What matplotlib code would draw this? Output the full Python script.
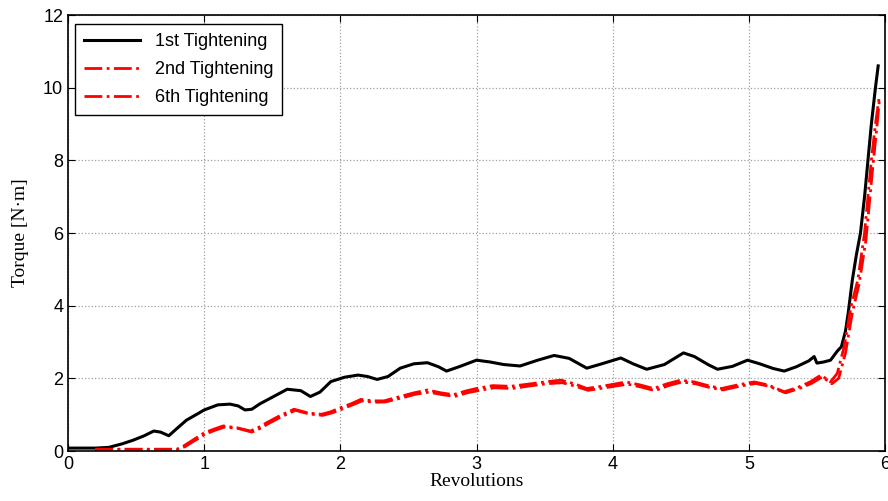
import numpy as np
import matplotlib.pyplot as plt

# revolutions / torque traces for each tightening
rev_1st = [0.0, 0.1, 0.2, 0.3, 0.4, 0.48, 0.56, 0.63, 0.68, 0.74, 0.8, 0.87, 0.95, 1.0, 1.1, 1.19, 1.25, 1.3, 1.35,
           1.41, 1.5, 1.61, 1.71, 1.78, 1.85, 1.93, 2.03, 2.13, 2.2, 2.27, 2.35, 2.44, 2.54, 2.64, 2.72, 2.78, 2.88,
           3.0, 3.1, 3.2, 3.32, 3.45, 3.57, 3.68, 3.81, 3.92, 4.06, 4.15, 4.25, 4.38, 4.52, 4.6, 4.7, 4.77, 4.88,
           4.99, 5.08, 5.18, 5.26, 5.35, 5.44, 5.48, 5.5, 5.55, 5.6, 5.65, 5.68, 5.71, 5.73, 5.76, 5.79, 5.82,
           5.85, 5.875, 5.9, 5.93, 5.95]
tq_1st = [0.08, 0.08, 0.08, 0.1, 0.2, 0.3, 0.42, 0.55, 0.52, 0.42, 0.62, 0.85, 1.02, 1.13, 1.27, 1.29, 1.24, 1.13, 1.15,
          1.3, 1.48, 1.7, 1.66, 1.5, 1.62, 1.91, 2.03, 2.09, 2.05, 1.97, 2.05, 2.28, 2.4, 2.43, 2.32, 2.2, 2.33,
          2.5, 2.45, 2.38, 2.34, 2.5, 2.63, 2.55, 2.28, 2.4, 2.56, 2.4, 2.25, 2.38, 2.7, 2.6, 2.38, 2.25, 2.33,
          2.5, 2.4, 2.27, 2.2, 2.32, 2.48, 2.6, 2.42, 2.45, 2.5, 2.75, 2.87, 3.3, 3.8, 4.7, 5.4, 6.0,
          7.0, 8.0, 9.0, 10.0, 10.6]

rev_2nd = [0.2, 0.4, 0.6, 0.8, 0.85, 0.9, 0.95, 1.0, 1.07, 1.14, 1.24, 1.34, 1.4, 1.46, 1.56, 1.66, 1.76, 1.86, 1.93,
           2.0, 2.08, 2.15, 2.24, 2.32, 2.44, 2.54, 2.64, 2.74, 2.83, 2.92, 3.0, 3.12, 3.25, 3.4, 3.5, 3.62, 3.72,
           3.81, 3.95, 4.1, 4.2, 4.3, 4.4, 4.5, 4.6, 4.7, 4.8, 4.92, 5.04, 5.14, 5.26, 5.36, 5.45, 5.53, 5.6, 5.65,
           5.7, 5.75, 5.8, 5.85, 5.9, 5.93, 5.96]
tq_2nd = [0.05, 0.05, 0.05, 0.05, 0.14, 0.26, 0.38, 0.5, 0.6, 0.69, 0.64, 0.55, 0.65, 0.78, 0.98, 1.15, 1.05, 1.01, 1.08,
          1.19, 1.3, 1.42, 1.38, 1.38, 1.5, 1.6, 1.68, 1.6, 1.55, 1.65, 1.72, 1.8, 1.78, 1.85, 1.9, 1.95, 1.85,
          1.72, 1.8, 1.9, 1.82, 1.72, 1.85, 1.95, 1.9, 1.8, 1.72, 1.82, 1.9, 1.82, 1.63, 1.75, 1.9, 2.09, 1.9, 2.14,
          2.87, 3.97, 4.7, 6.0, 8.0, 9.0, 9.8]

rev_6th = [0.2, 0.4, 0.6, 0.8, 0.86, 0.91, 0.96, 1.01, 1.08, 1.15, 1.25, 1.35, 1.41, 1.47, 1.57, 1.67, 1.77, 1.87, 1.94,
           2.01, 2.09, 2.16, 2.25, 2.33, 2.45, 2.55, 2.65, 2.75, 2.84, 2.93, 3.01, 3.13, 3.26, 3.41, 3.51, 3.63, 3.73,
           3.82, 3.96, 4.11, 4.21, 4.31, 4.41, 4.51, 4.61, 4.71, 4.81, 4.93, 5.05, 5.15, 5.27, 5.37, 5.46, 5.54, 5.61,
           5.66, 5.71, 5.76, 5.81, 5.86, 5.91, 5.94, 5.96]
tq_6th = [0.04, 0.04, 0.04, 0.04, 0.12, 0.24, 0.35, 0.47, 0.57, 0.66, 0.62, 0.52, 0.62, 0.75, 0.95, 1.12, 1.02, 0.98, 1.05,
          1.15, 1.27, 1.38, 1.34, 1.35, 1.46, 1.56, 1.62, 1.55, 1.5, 1.6, 1.66, 1.74, 1.72, 1.8, 1.85, 1.88, 1.78,
          1.67, 1.75, 1.84, 1.76, 1.66, 1.8, 1.9, 1.85, 1.75, 1.68, 1.78, 1.86, 1.78, 1.6, 1.72, 1.86, 2.04, 1.85, 2.0,
          2.7, 3.8, 4.6, 5.8, 7.8, 8.9, 9.7]

xticks = [0, 1, 2, 3, 4, 5, 6]
yticks = [0, 2, 4, 6, 8, 10, 12]

fig = plt.figure(figsize=(8.88, 5.01), dpi=100)
ax = fig.add_axes([0.0766, 0.0998, 0.92, 0.8702])

ax.plot(rev_1st, tq_1st, color='black', lw=2.2, label='1st Tightening')
ax.plot(rev_2nd, tq_2nd, color='red', lw=2, ls='-.', label='2nd Tightening')
ax.plot(rev_6th, tq_6th, color='red', lw=2, ls='-.', label='6th Tightening')

ax.set_xlim(0, 6)
ax.set_ylim(0, 12)
ax.set_xticks(xticks)
ax.set_yticks(yticks)
ax.grid(True, color='#a0a0a0', ls=':', lw=0.9)
ax.tick_params(direction='in', top=True, right=True, labelsize=13, length=5)
for lab in ax.get_xticklabels() + ax.get_yticklabels():
    lab.set_family('Liberation Sans')
for s in ax.spines.values():
    s.set_linewidth(1.2)

ax.set_xlabel('Revolutions', family='Liberation Serif', fontsize=14, labelpad=0)
ax.set_ylabel('Torque [N·m]', family='Liberation Serif', fontsize=14, labelpad=10)

leg = ax.legend(loc='upper left', prop={'family': 'Liberation Sans', 'size': 13}, fancybox=False,
                framealpha=1, edgecolor='black', handlelength=3.1, borderpad=0.5, labelspacing=0.6,
                borderaxespad=0.4, bbox_to_anchor=(0.0, 0.995))
leg.get_frame().set_linewidth(1)

fig.savefig('out.png', dpi=100)
